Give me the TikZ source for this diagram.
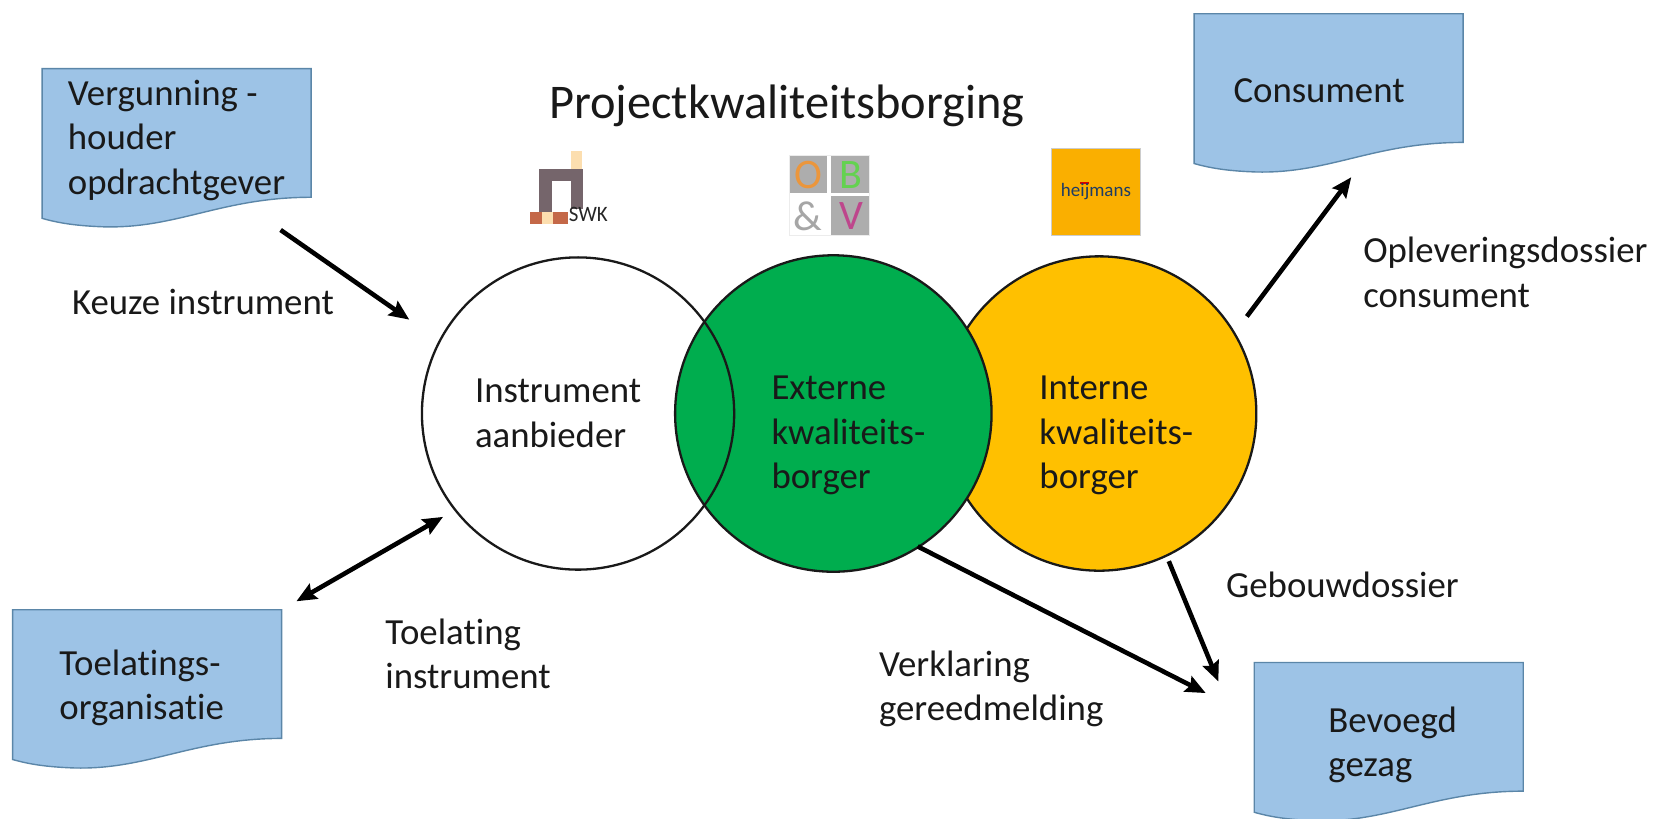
\documentclass[tikz,border=0pt]{standalone}
\usepackage{fontspec}
\setmainfont[Ligatures=CommonOff]{Carlito}
\usetikzlibrary{arrows.meta}
\definecolor{docblue}{HTML}{9DC3E6}
\definecolor{docline}{HTML}{5B86A8}
\definecolor{gr}{HTML}{00AD4E}
\definecolor{ye}{HTML}{FFC000}
\definecolor{swkgrey}{RGB}{117,101,107}
\definecolor{swkcream}{RGB}{252,222,175}
\definecolor{swkbrick}{RGB}{196,104,72}
\tikzset{
  x=0.5275pt,y=-0.5275pt,
  lbl/.style={font=\fontsize{18.4}{22.2}\selectfont,align=left,anchor=west,inner sep=0pt,text=black!90},
  ring/.style={line width=1.15pt,draw=black!90},
  arr/.style={line width=2.3pt,-{Stealth[length=10pt,width=8.5pt,inset=1.5pt]},draw=black},
  arrtwo/.style={line width=2.3pt,{Stealth[length=10pt,width=8.5pt,inset=1.5pt]}-{Stealth[length=10pt,width=8.5pt,inset=1.5pt]},draw=black},
  docbox/.style={fill=docblue,draw=docline,line width=0.7pt},
  logotxt/.style={inner sep=0pt,font=\fontsize{21}{21}\selectfont}
}
\newcommand{\docshape}[2]{%
  \begin{scope}[shift={(#1,#2)}]
  \path[docbox] (0,0) -- (255,0) -- (255,122)
    .. controls (170,122) and (128,152) .. (58,150)
    .. controls (30,149) and (14,146) .. (0,142) -- cycle;
  \end{scope}}
\begin{document}
\begin{tikzpicture}
\useasboundingbox (0,0) rectangle (1568,775.5);
% document shapes
\docshape{40}{65}
\docshape{1132}{13}
\docshape{12}{578}
\docshape{1189}{628}
% circles
\coordinate (cw) at (548,392);
\coordinate (cg) at (790,392);
\coordinate (cy) at (1042,392);
\path[fill=ye,ring] (cy) circle (149);
\path[fill=gr,ring] (cg) circle (150);
\draw[ring] (cw) circle (148);
% SWK logo
\fill[swkgrey] (511,160) rectangle (553,172);
\fill[swkgrey] (511,160) rectangle (523,203);
\fill[swkgrey] (541,160) rectangle (553,198);
\fill[swkcream] (541,143) rectangle (552,160);
\fill[swkbrick] (502,201) rectangle (538,212);
\fill[swkcream] (514,201) rectangle (524,212);
\node[inner sep=0pt,anchor=west,font=\fontsize{11}{11}\selectfont,xscale=0.95,text=black!85] (swk) at (539,203) {SWK};
% OB&V logo
\fill[gray!15] (748,147) rectangle (825,224);
\fill[white] (749,148) rectangle (824,223);
\fill[black!32] (749,148) rectangle (784,183);
\fill[black!32] (788,148) rectangle (824,183);
\fill[black!32] (788,186) rectangle (824,223);
\node[logotxt,text={rgb,255:red,235;green,150;blue,60}] (lo) at (766,166) {O};
\node[logotxt,text={rgb,255:red,100;green,210;blue,80}] (lb) at (807,166) {B};
\node[logotxt,text=black!35] (la) at (766,205) {\&};
\node[logotxt,text={rgb,255:red,190;green,70;blue,140}] (lv) at (807,205) {V};
% heijmans logo
\path[fill={rgb,255:red,250;green,175;blue,0},draw=black!20,line width=0.3pt] (997,141) rectangle (1081,223);
\fill[red!85!black] (1024,172.5) rectangle (1032,174.5);
\node[inner sep=0pt,font=\fontsize{9.5}{9.5}\selectfont,text={rgb,255:red,30;green,60;blue,100}] (hm) at (1039,182) {heijmans};
% title
\node[inner sep=0pt,font=\fontsize{24.2}{28}\selectfont,text=black!90] (title) at (746,100) {Projectkwaliteitsborging};
% labels
\node[lbl] (t1) at (64,133) {Vergunning -\\houder\\opdrachtgever};
\node[lbl] (t2) at (1169,86) {Consument};
\node[lbl] (t3) at (56,652) {Toelatings-\\organisatie};
\node[lbl] (t4) at (1259,706) {Bevoegd\\gezag};
\node[lbl] (t5) at (68,286) {Keuze instrument};
\node[lbl] (t6) at (365,620) {Toelating\\instrument};
\node[lbl] (t7) at (833,653) {Verklaring\\gereedmelding};
\node[lbl] (t8) at (1162,554) {Gebouwdossier};
\node[lbl] (t9) at (1292,258) {Opleveringsdossier\\consument};
\node[lbl] (t10) at (450,392) {Instrument\\aanbieder};
\node[lbl] (t11) at (731,413) {Externe\\kwaliteits-\\borger};
\node[lbl] (t12) at (985,413) {Interne\\kwaliteits-\\borger};
% connectors
\coordinate (a1s) at (266,218); \coordinate (a1e) at (388,303);
\coordinate (a2s) at (281,570); \coordinate (a2e) at (420,490);
\coordinate (a3s) at (1182,300); \coordinate (a3e) at (1281,168);
\coordinate (a4s) at (870,518); \coordinate (a4e) at (1143,657);
\coordinate (a5s) at (1108,532); \coordinate (a5e) at (1155,646);
\draw[arr] (a1s) -- (a1e);
\draw[arrtwo] (a2s) -- (a2e);
\draw[arr] (a3s) -- (a3e);
\draw[arr] (a4s) -- (a4e);
\draw[arr] (a5s) -- (a5e);
\end{tikzpicture}
\end{document}
